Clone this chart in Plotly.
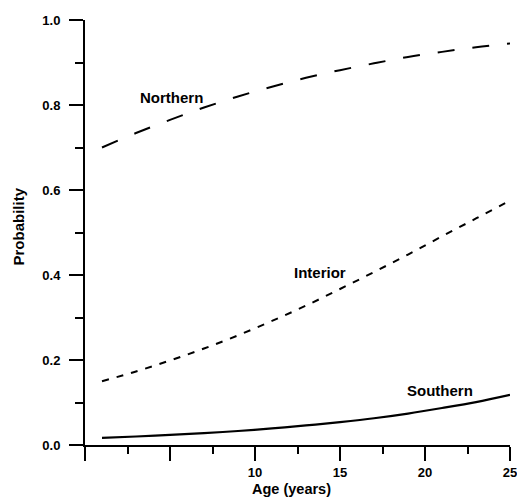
import plotly.graph_objects as go

age = [1, 3, 5, 7, 9, 11, 13, 15, 17, 19, 21, 23, 25]
northern = [0.700, 0.734, 0.765, 0.794, 0.820, 0.843, 0.864, 0.882, 0.898, 0.913, 0.925, 0.936, 0.945]
interior = [0.150, 0.173, 0.199, 0.227, 0.258, 0.292, 0.328, 0.367, 0.407, 0.448, 0.491, 0.533, 0.575]
southern = [0.017, 0.020, 0.024, 0.028, 0.033, 0.039, 0.046, 0.054, 0.063, 0.074, 0.087, 0.101, 0.118]

x_tickvals = [0, 5, 10, 15, 20, 25]
x_ticktext = ["", "", "10", "15", "20", "25"]
y_tickvals = [0.0, 0.2, 0.4, 0.6, 0.8, 1.0]
y_ticktext = ["0.0", "0.2", "0.4", "0.6", "0.8", "1.0"]

labels = [("Northern", 5.1, 0.818), ("Interior", 13.8, 0.405), ("Southern", 20.9, 0.129)]

FONT = "Liberation Sans, Arial, sans-serif"

fig = go.Figure()
fig.add_trace(go.Scatter(x=age, y=northern, mode="lines", line=dict(color="black", width=2, dash="17px,18px", shape="spline")))
fig.add_trace(go.Scatter(x=age, y=interior, mode="lines", line=dict(color="black", width=2, dash="7px,8px", shape="spline")))
fig.add_trace(go.Scatter(x=age, y=southern, mode="lines", line=dict(color="black", width=2.2, shape="spline")))

for text, x, y in labels:
    fig.add_annotation(x=x, y=y, xref="x", yref="y", text=text, showarrow=False,
                       font=dict(family=FONT, size=15, color="black", weight="bold"))

fig.add_annotation(x=0, y=0.5, xref="paper", yref="paper", text="Probability", showarrow=False,
                   textangle=-90, xanchor="center", yanchor="middle", xshift=-67, yshift=6,
                   font=dict(family=FONT, size=15, color="black", weight="bold"))
fig.add_annotation(x=0.5, y=0, xref="paper", yref="paper", text="Age (years)", showarrow=False,
                   xanchor="center", yanchor="middle", xshift=-6, yshift=-44,
                   font=dict(family=FONT, size=14.5, color="black", weight="bold"))

fig.update_layout(
    width=517, height=498,
    margin=dict(l=85, r=7, t=20, b=53),
    paper_bgcolor="white", plot_bgcolor="white",
    showlegend=False,
    font=dict(family=FONT, color="black"),
)
fig.update_xaxes(
    range=[0, 25], showgrid=False, zeroline=False,
    showline=True, linecolor="black", linewidth=2,
    ticks="outside", ticklen=14, tickwidth=2, tickcolor="black",
    tickvals=x_tickvals, ticktext=x_ticktext,
    tickfont=dict(family=FONT, size=13, color="black", weight="bold"),
    ticklabelstandoff=0, ticklabeloverflow="allow",
    minor=dict(ticks="outside", ticklen=7, tickwidth=2, tickcolor="black", dtick=2.5, tick0=0, showgrid=False),
    automargin=False,
)
fig.update_yaxes(
    range=[0, 1], showgrid=False, zeroline=False,
    showline=True, linecolor="black", linewidth=2,
    ticks="outside", ticklen=14, tickwidth=2, tickcolor="black",
    tickvals=y_tickvals, ticktext=y_ticktext,
    tickfont=dict(family=FONT, size=13, color="black", weight="bold"),
    ticklabelstandoff=6,
    minor=dict(ticks="outside", ticklen=8, tickwidth=2, tickcolor="black", dtick=0.1, tick0=0, showgrid=False),
    automargin=False,
)

fig.write_html("out.html", config={"displayModeBar": False},
               post_script="document.body.style.margin='0';document.body.style.overflow='hidden';")
